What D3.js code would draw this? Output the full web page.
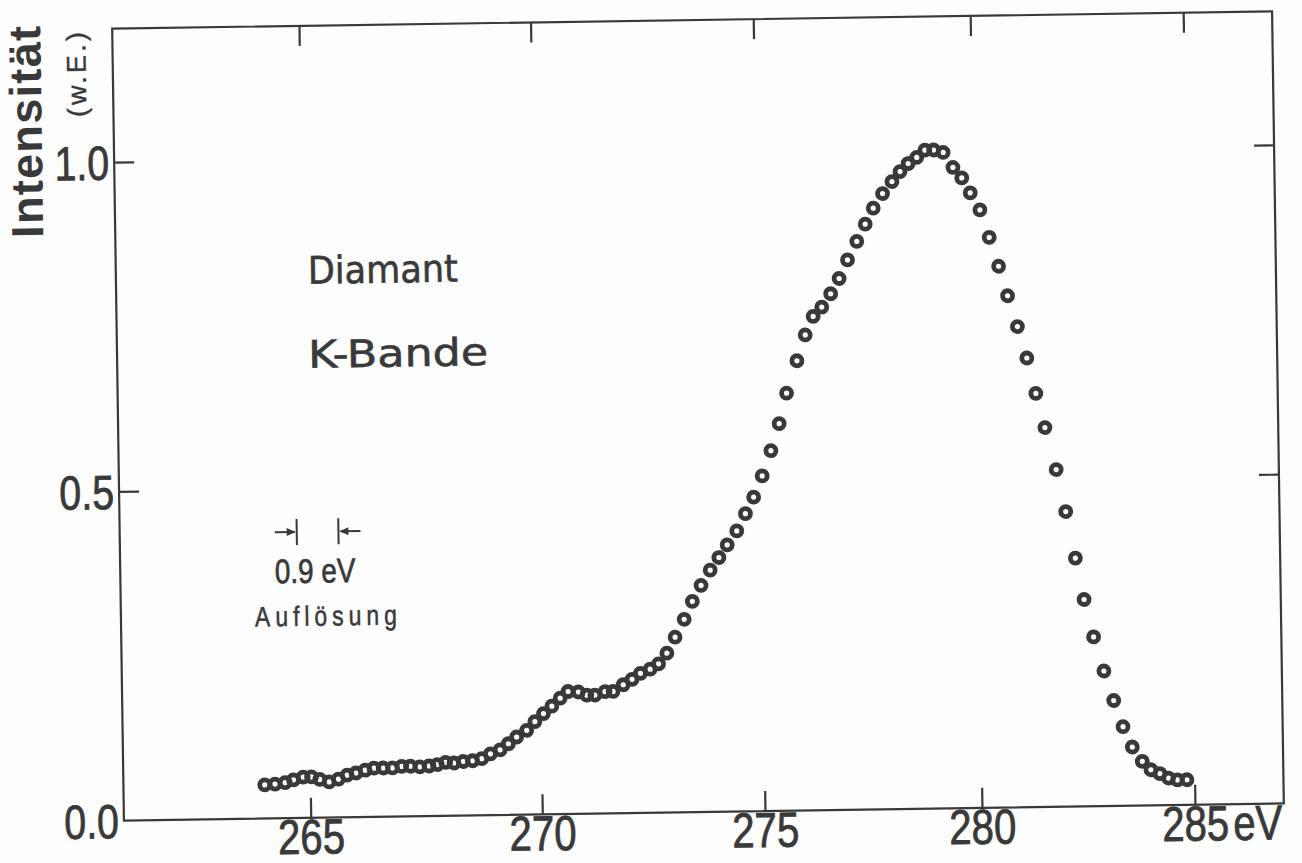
<!DOCTYPE html>
<html>
<head>
<meta charset="utf-8">
<script src="https://cdn.jsdelivr.net/npm/d3@7"></script>
<style>
  html, body { margin: 0; padding: 0; background: #fdfdfd; }
  svg { display: block; }
</style>
</head>
<body>
<svg id="chart" width="1302" height="863"></svg>
<script>
// Diamond, carbon K emission band: measured intensity (arbitrary units) vs photon energy (eV)
const energy = [
  264.02, 264.24, 264.46, 264.64, 264.85, 265.03, 265.21, 265.41, 265.61, 265.80,
  265.99, 266.19, 266.38, 266.58, 266.78, 266.98, 267.17, 267.37, 267.57, 267.75,
  267.93, 268.11, 268.31, 268.51, 268.71, 268.90, 269.11, 269.29, 269.47, 269.69,
  269.87, 270.06, 270.25, 270.44, 270.62, 270.85, 271.04, 271.22, 271.45, 271.63,
  271.86, 272.06, 272.25, 272.47, 272.66, 272.85, 273.04, 273.25, 273.44, 273.64,
  273.85, 274.05, 274.24, 274.46, 274.66, 274.85, 275.05, 275.26, 275.46, 275.64,
  275.89, 276.09, 276.28, 276.48, 276.69, 276.89, 277.09, 277.31, 277.51, 277.70,
  277.92, 278.14, 278.33, 278.52, 278.72, 278.91, 279.11, 279.33, 279.55, 279.75,
  279.94, 280.16, 280.37, 280.58, 280.78, 281.00, 281.21, 281.41, 281.61, 281.86,
  282.07, 282.28, 282.47, 282.68, 282.91, 283.13, 283.34, 283.55, 283.78, 283.98,
  284.19, 284.39, 284.60, 284.82
];
const intensity = [
  0.051, 0.052, 0.054, 0.058, 0.062, 0.062, 0.058, 0.054, 0.058, 0.064,
  0.067, 0.071, 0.074, 0.074, 0.074, 0.076, 0.076, 0.075, 0.076, 0.078,
  0.081, 0.080, 0.082, 0.083, 0.086, 0.093, 0.099, 0.108, 0.118, 0.128,
  0.141, 0.153, 0.164, 0.176, 0.186, 0.185, 0.180, 0.180, 0.185, 0.185,
  0.195, 0.203, 0.212, 0.218, 0.226, 0.242, 0.266, 0.293, 0.320, 0.344,
  0.367, 0.386, 0.405, 0.426, 0.452, 0.477, 0.509, 0.547, 0.588, 0.634,
  0.683, 0.722, 0.750, 0.764, 0.784, 0.807, 0.835, 0.863, 0.889, 0.913,
  0.935, 0.953, 0.968, 0.980, 0.989, 1.000, 1.000, 0.996, 0.973, 0.957,
  0.934, 0.908, 0.866, 0.822, 0.777, 0.730, 0.682, 0.628, 0.576, 0.512,
  0.448, 0.377, 0.314, 0.257, 0.205, 0.160, 0.120, 0.089, 0.067, 0.054,
  0.048, 0.041, 0.038, 0.038
];
const xTickValues = [265, 270, 275, 280, 285];
const xTickLabels = ["265", "270", "275", "280", "285"];
const yTickValues = [0.0, 0.5, 1.0];
const yTickLabels = ["0.0", "0.5", "1.0"];
const resolutionStart = 264.79;   // eV, left marker of the resolution bar
const resolutionWidth = 0.9;      // eV

// ---- layout ----
const ink = "#393939";
const plot = { left: 118, right: 1278, top: 20, bottom: 812 };
const tilt = -0.85;  // the whole sheet sits slightly askew
const cx = (plot.left + plot.right) / 2, cy = (plot.top + plot.bottom) / 2;
const narrowFont = "'Liberation Sans', Arial, sans-serif";   // squeezed horizontally below
const squeeze = 0.82;
const textFont = "'DejaVu Sans', 'Noto Sans', sans-serif";

// energy axis of the spectrometer is not quite uniform: piecewise between the ticks
const x = d3.scaleLinear()
  .domain([260.97, 265, 270, 275, 280, 285, 287.09])
  .range([plot.left, 304.8, 536.4, 759.1, 976.1, 1189.1, plot.right]);
const y = d3.scaleLinear().domain([0, 1]).range([plot.bottom, 153.5]);

const svg = d3.select("#chart");
svg.append("rect").attr("width", 1302).attr("height", 863).attr("fill", "#fdfdfd");

const g = svg.append("g").attr("transform", `rotate(${tilt},${cx},${cy})`);

// condensed-looking text: a regular face squeezed horizontally
function narrowText(parent, px, py, str, size, anchor) {
  return parent.append("text")
    .attr("transform", `translate(${px},${py}) scale(${squeeze},1)`)
    .attr("text-anchor", anchor || "start")
    .attr("fill", ink).attr("stroke", ink).attr("stroke-width", 0.7)
    .attr("font-family", narrowFont).attr("font-size", size)
    .text(str);
}

// frame
g.append("rect")
  .attr("x", plot.left).attr("y", plot.top)
  .attr("width", plot.right - plot.left).attr("height", plot.bottom - plot.top)
  .attr("fill", "none").attr("stroke", ink).attr("stroke-width", 2.2);

const tickLen = 20;

function styleAxis(sel) {
  sel.select(".domain").remove();
  sel.selectAll(".tick line").attr("stroke", ink).attr("stroke-width", 2.2);
}

// bottom axis with labels
const xAxisB = g.append("g")
  .attr("transform", `translate(0,${plot.bottom})`)
  .call(d3.axisBottom(x).tickValues(xTickValues)
    .tickFormat((d, i) => xTickLabels[i]).tickSizeInner(-tickLen).tickSizeOuter(0));
styleAxis(xAxisB);
xAxisB.selectAll(".tick text")
  .attr("y", null).attr("dy", null)
  .attr("transform", `translate(0,36) scale(${squeeze},1)`)
  .attr("fill", ink).attr("stroke", ink).attr("stroke-width", 0.8)
  .attr("font-family", narrowFont).attr("font-size", 49);

// top axis, ticks only
const xAxisT = g.append("g")
  .attr("transform", `translate(0,${plot.top})`)
  .call(d3.axisTop(x).tickValues(xTickValues).tickFormat("").tickSizeInner(-tickLen).tickSizeOuter(0));
styleAxis(xAxisT);

// left axis with labels
const yAxisL = g.append("g")
  .attr("transform", `translate(${plot.left},0)`)
  .call(d3.axisLeft(y).tickValues(yTickValues)
    .tickFormat((d, i) => yTickLabels[i]).tickSizeInner(-tickLen).tickSizeOuter(0));
styleAxis(yAxisL);
yAxisL.selectAll(".tick line").filter(d => d === 0).remove();
yAxisL.selectAll(".tick text")
  .attr("x", null).attr("dy", null)
  .attr("transform", `translate(-5,17) scale(${squeeze},1)`)
  .attr("fill", ink).attr("stroke", ink).attr("stroke-width", 0.8)
  .attr("font-family", narrowFont).attr("font-size", 48);

// right axis, ticks only
const yAxisR = g.append("g")
  .attr("transform", `translate(${plot.right},0)`)
  .call(d3.axisRight(y).tickValues(yTickValues).tickFormat("").tickSizeInner(-tickLen).tickSizeOuter(0));
styleAxis(yAxisR);
yAxisR.selectAll(".tick line").filter(d => d === 0).remove();

// unit after the last energy label
narrowText(g, x(285) + 38, plot.bottom + 36, "eV", 49).attr("stroke-width", 0.8);

// y-axis title
g.append("text")
  .attr("transform", "translate(46,228) rotate(-90)")
  .attr("fill", ink)
  .attr("font-family", narrowFont).attr("font-weight", "bold").attr("font-size", 45)
  .attr("textLength", 212).attr("lengthAdjust", "spacing")
  .text("Intensität");
g.append("text")
  .attr("transform", "translate(91,108) rotate(-90)")
  .attr("fill", ink).attr("stroke", ink).attr("stroke-width", 0.4)
  .attr("font-family", narrowFont).attr("font-size", 27)
  .attr("textLength", 85).attr("lengthAdjust", "spacing")
  .text("(w.E.)");

// sample label
g.append("text")
  .attr("x", 310).attr("y", 278)
  .attr("fill", ink).attr("stroke", ink).attr("stroke-width", 0.6)
  .attr("font-family", textFont).attr("font-size", 38)
  .attr("textLength", 150).attr("lengthAdjust", "spacingAndGlyphs")
  .text("Diamant");
g.append("text")
  .attr("x", 309).attr("y", 362)
  .attr("fill", ink).attr("stroke", ink).attr("stroke-width", 0.6)
  .attr("font-family", textFont).attr("font-size", 38)
  .attr("textLength", 180).attr("lengthAdjust", "spacingAndGlyphs")
  .text("K-Bande");

// resolution marker
const rx0 = x(resolutionStart), rx1 = x(resolutionStart + resolutionWidth);
const ry = 526;
const arrowLen = 22, barHalf = 13;
const res = g.append("g").attr("stroke", ink).attr("stroke-width", 2).attr("fill", ink);
res.append("line").attr("x1", rx0).attr("x2", rx0).attr("y1", ry - barHalf).attr("y2", ry + barHalf);
res.append("line").attr("x1", rx1).attr("x2", rx1).attr("y1", ry - barHalf).attr("y2", ry + barHalf);
res.append("line").attr("x1", rx0 - arrowLen).attr("x2", rx0 - 2).attr("y1", ry).attr("y2", ry);
res.append("line").attr("x1", rx1 + arrowLen).attr("x2", rx1 + 2).attr("y1", ry).attr("y2", ry);
res.append("path").attr("stroke", "none")
  .attr("d", `M${rx0 - 1},${ry} l-9,-4 l0,8 Z`);
res.append("path").attr("stroke", "none")
  .attr("d", `M${rx1 + 1},${ry} l9,-4 l0,8 Z`);
narrowText(g, (rx0 + rx1) / 2 - 3, 577, "0.9 eV", 34, "middle");
narrowText(g, 323, 620, "Auflösung", 28, "middle")
  .attr("stroke-width", 0.5)
  .attr("textLength", 142 / squeeze).attr("lengthAdjust", "spacing");

// measured points
const points = d3.zip(energy, intensity);
g.append("g")
  .selectAll("circle")
  .data(points)
  .join("circle")
  .attr("cx", d => x(d[0]))
  .attr("cy", d => y(d[1]))
  .attr("r", 5.0)
  .attr("fill", "none")
  .attr("stroke", ink)
  .attr("stroke-width", 4.8);
</script>
</body>
</html>
